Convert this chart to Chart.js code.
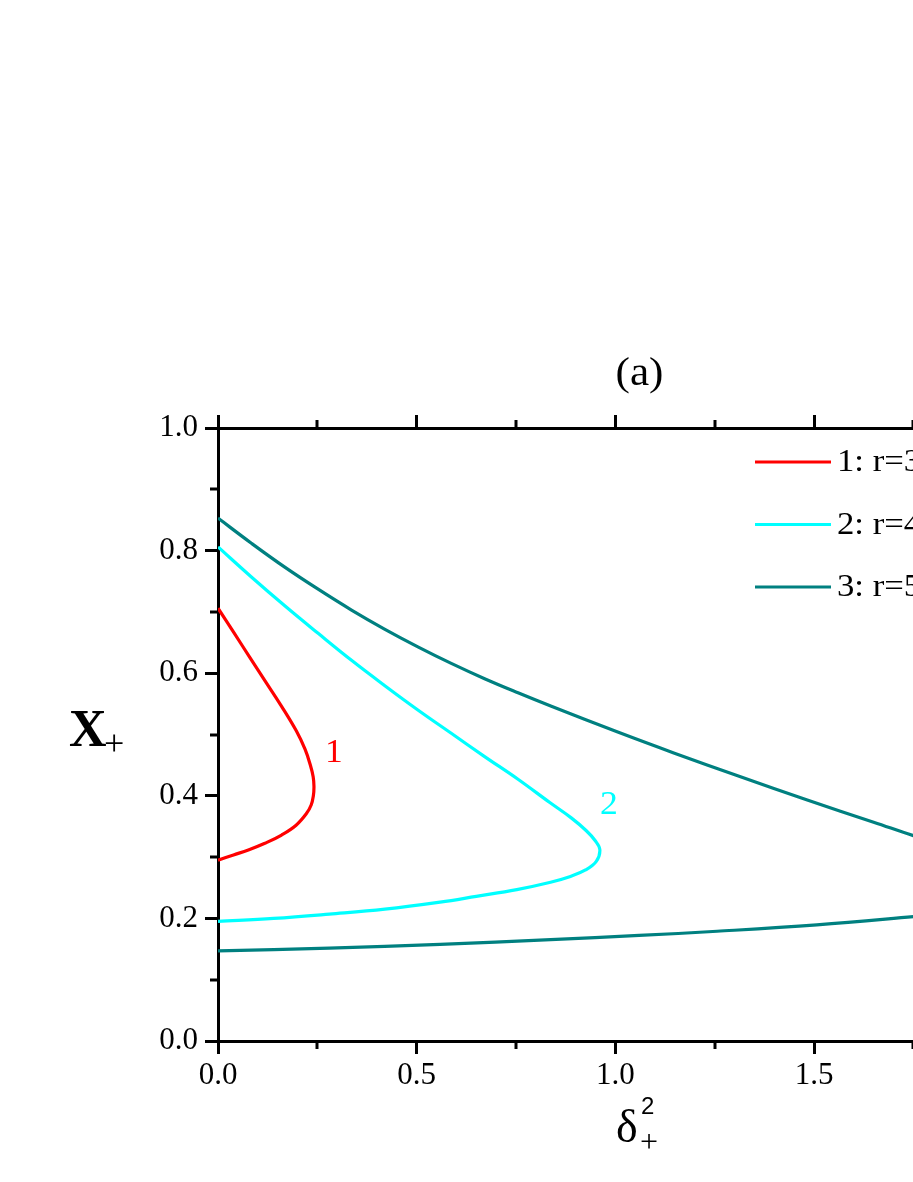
<!DOCTYPE html>
<html>
<head>
<meta charset="utf-8">
<script src="https://cdn.jsdelivr.net/npm/chart.js@4.4.1/dist/chart.umd.min.js"></script>
<style>
  html, body { margin: 0; padding: 0; background: #fff; overflow: hidden; }
  #wrap { position: absolute; left: 0; top: 0; width: 1100px; height: 1182px; }
</style>
</head>
<body>
<div id="wrap"><canvas id="c"></canvas></div>
<script>
// ---- data ----
const seriesLabels = ['1: r=3', '2: r=4', '3: r=5'];
const curveNames = ['1', '2', '3'];

// curve 1 (red), traced from upper branch through nose to lower branch
const c1X = [0.000, 0.040, 0.080, 0.120, 0.160, 0.197, 0.219, 0.232, 0.2395, 0.2415, 0.240, 0.2345, 0.2225, 0.1965, 0.160, 0.118, 0.0764, 0.039, 0.000];
const c1Y = [0.706, 0.666, 0.626, 0.586, 0.546, 0.506, 0.476, 0.451, 0.431, 0.415, 0.400, 0.385, 0.371, 0.352, 0.336, 0.3225, 0.3116, 0.3035, 0.295];

// curve 2 (cyan)
const c2X = [0.000, 0.084, 0.168, 0.252, 0.336, 0.419, 0.503, 0.587, 0.671, 0.755, 0.835, 0.889, 0.927, 0.949, 0.961, 0.952, 0.925, 0.885, 0.837, 0.752, 0.650, 0.559, 0.420, 0.280, 0.140, 0.000];
const c2Y = [0.806, 0.757, 0.710, 0.665, 0.621, 0.580, 0.540, 0.502, 0.464, 0.427, 0.389, 0.364, 0.343, 0.327, 0.312, 0.293, 0.279, 0.268, 0.259, 0.247, 0.236, 0.2265, 0.215, 0.207, 0.200, 0.195];

// curve 3 (teal); its nose lies beyond the visible right edge
const c3X = [0.000, 0.084, 0.168, 0.252, 0.336, 0.419, 0.503, 0.587, 0.671, 0.755, 0.839, 1.006, 1.147, 1.315, 1.483, 1.650, 1.750, 1.900, 2.050, 2.150, 2.050, 1.900, 1.750, 1.507, 1.256, 1.060, 0.837, 0.559, 0.280, 0.000];
const c3Y = [0.853, 0.812, 0.773, 0.737, 0.703, 0.672, 0.643, 0.616, 0.591, 0.568, 0.546, 0.504, 0.470, 0.431, 0.393, 0.357, 0.335, 0.304, 0.272, 0.245, 0.225, 0.212, 0.203, 0.1895, 0.179, 0.1722, 0.1655, 0.1575, 0.1515, 0.147];

// curve number labels (data coordinates)
const labelPos1 = [0.292, 0.470];
const labelPos2 = [0.984, 0.3845];

// axes
const xMin = 0, xMax = 2.0, xStep = 0.25, xMajor = 0.5;
const yMin = 0, yMax = 1.0, yStep = 0.1, yMajor = 0.2;
const titleText = '(a)';

const colors = ['#ff0000', '#00ffff', '#008080'];
const FONT = '"Liberation Serif", "Times New Roman", serif';
const SANS = '"Liberation Sans", Arial, sans-serif';

function pts(xs, ys) { return xs.map((x, i) => ({ x: x, y: ys[i] })); }
function isMajor(v, m) { const r = v / m; return Math.abs(r - Math.round(r)) < 1e-6; }

const W = 1100, H = 1182;
const LEFT = 218, TOP = 428, BOTTOM = 1041, PXPERX = 397.35;
const RIGHT = LEFT + PXPERX * (xMax - xMin);

function stretchedText(ctx, text, x, y, sx) {
  ctx.save();
  ctx.translate(x, y);
  ctx.scale(sx, 1);
  ctx.fillText(text, 0, 0);
  ctx.restore();
}

const decorPlugin = {
  id: 'decor',
  afterDraw(chart) {
    const ctx = chart.ctx;
    const area = chart.chartArea;
    ctx.save();
    // minor ticks
    ctx.strokeStyle = '#000';
    ctx.lineWidth = 3;
    const sx = chart.scales.x, sy = chart.scales.y;
    sx.ticks.forEach(t => {
      if (isMajor(t.value, xMajor)) return;
      const p = Math.round(sx.getPixelForValue(t.value));
      ctx.beginPath(); ctx.moveTo(p, area.bottom); ctx.lineTo(p, area.bottom + 8); ctx.stroke();
      ctx.beginPath(); ctx.moveTo(p, area.top); ctx.lineTo(p, area.top - 8); ctx.stroke();
    });
    sy.ticks.forEach(t => {
      if (isMajor(t.value, yMajor)) return;
      const p = Math.round(sy.getPixelForValue(t.value));
      ctx.beginPath(); ctx.moveTo(area.left, p); ctx.lineTo(area.left - 8, p); ctx.stroke();
    });

    // title
    ctx.fillStyle = '#000';
    ctx.textAlign = 'center';
    ctx.textBaseline = 'alphabetic';
    ctx.font = '40px ' + FONT;
    stretchedText(ctx, titleText, 639.5, 385, 1.08);

    // y axis title: X with subscript +
    ctx.textAlign = 'left';
    ctx.font = 'bold 52px ' + FONT;
    ctx.fillText('X', 69, 746);
    ctx.font = '36px ' + FONT;
    ctx.fillText('+', 104, 755);

    // x axis title: delta with sub + and sup 2
    ctx.font = '46px ' + FONT;
    ctx.fillText('\u03B4', 616, 1142);
    ctx.font = '24px ' + SANS;
    ctx.fillText('2', 641, 1114);
    ctx.font = '32px ' + FONT;
    ctx.fillText('+', 640, 1152);

    // curve number labels
    ctx.textAlign = 'center';
    ctx.textBaseline = 'middle';
    ctx.font = '33px ' + FONT;
    ctx.fillStyle = colors[0];
    stretchedText(ctx, curveNames[0], sx.getPixelForValue(labelPos1[0]), sy.getPixelForValue(labelPos1[1]), 1.08);
    ctx.fillStyle = colors[1];
    stretchedText(ctx, curveNames[1], sx.getPixelForValue(labelPos2[0]), sy.getPixelForValue(labelPos2[1]), 1.08);

    // legend
    const ly0 = 462, lstep = 62.5;
    chart.data.datasets.forEach((ds, i) => {
      const y = ly0 + i * lstep;
      ctx.strokeStyle = ds.borderColor;
      ctx.lineWidth = 3.2;
      ctx.beginPath(); ctx.moveTo(755, y); ctx.lineTo(831, y); ctx.stroke();
      ctx.fillStyle = '#000';
      ctx.textAlign = 'left';
      ctx.textBaseline = 'middle';
      ctx.font = '31px ' + FONT;
      stretchedText(ctx, ds.label, 837, y + 1, 1.12);
    });
    ctx.restore();
  }
};

const tickColorFn = (m) => (c) => (c.tick && isMajor(c.tick.value, m)) ? '#000' : 'rgba(0,0,0,0)';

new Chart(document.getElementById('c'), {
  type: 'scatter',
  data: {
    datasets: [
      { label: seriesLabels[0], data: pts(c1X, c1Y), borderColor: colors[0] },
      { label: seriesLabels[1], data: pts(c2X, c2Y), borderColor: colors[1] },
      { label: seriesLabels[2], data: pts(c3X, c3Y), borderColor: colors[2] }
    ].map(d => Object.assign(d, { showLine: true, borderWidth: 3.2, pointRadius: 0, pointHoverRadius: 0, tension: 0.4, fill: false, backgroundColor: d.borderColor }))
  },
  options: {
    responsive: true,
    maintainAspectRatio: false,
    animation: false,
    events: [],
    layout: { padding: { left: 0, top: 0, bottom: 0, right: W - RIGHT } },
    plugins: { legend: { display: false }, tooltip: { enabled: false }, title: { display: false } },
    scales: {
      x: {
        type: 'linear', position: 'bottom', min: xMin, max: xMax,
        afterFit: s => { s.height = H - BOTTOM; },
        border: { display: true, color: '#000', width: 3 },
        grid: { drawOnChartArea: false, drawTicks: true, tickLength: 13, tickWidth: 3, tickColor: tickColorFn(xMajor) },
        ticks: {
          stepSize: xStep, autoSkip: false, maxRotation: 0, padding: 3, color: '#000',
          font: { family: FONT, size: 31 },
          callback: v => isMajor(v, xMajor) ? Number(v).toFixed(1) : ''
        }
      },
      xTop: {
        type: 'linear', position: 'top', min: xMin, max: xMax,
        afterFit: s => { s.height = TOP; },
        border: { display: true, color: '#000', width: 3 },
        grid: { drawOnChartArea: false, drawTicks: true, tickLength: 13, tickWidth: 3, tickColor: tickColorFn(xMajor) },
        ticks: { stepSize: xStep, autoSkip: false, display: false }
      },
      y: {
        type: 'linear', position: 'left', min: yMin, max: yMax,
        afterFit: s => { s.width = LEFT; },
        border: { display: true, color: '#000', width: 3 },
        grid: { drawOnChartArea: false, drawTicks: true, tickLength: 13, tickWidth: 3, tickColor: tickColorFn(yMajor) },
        ticks: {
          stepSize: yStep, autoSkip: false, padding: 7, color: '#000',
          font: { family: FONT, size: 31 },
          callback: v => isMajor(v, yMajor) ? Number(v).toFixed(1) : ''
        }
      }
    }
  },
  plugins: [decorPlugin]
});
</script>
</body>
</html>
